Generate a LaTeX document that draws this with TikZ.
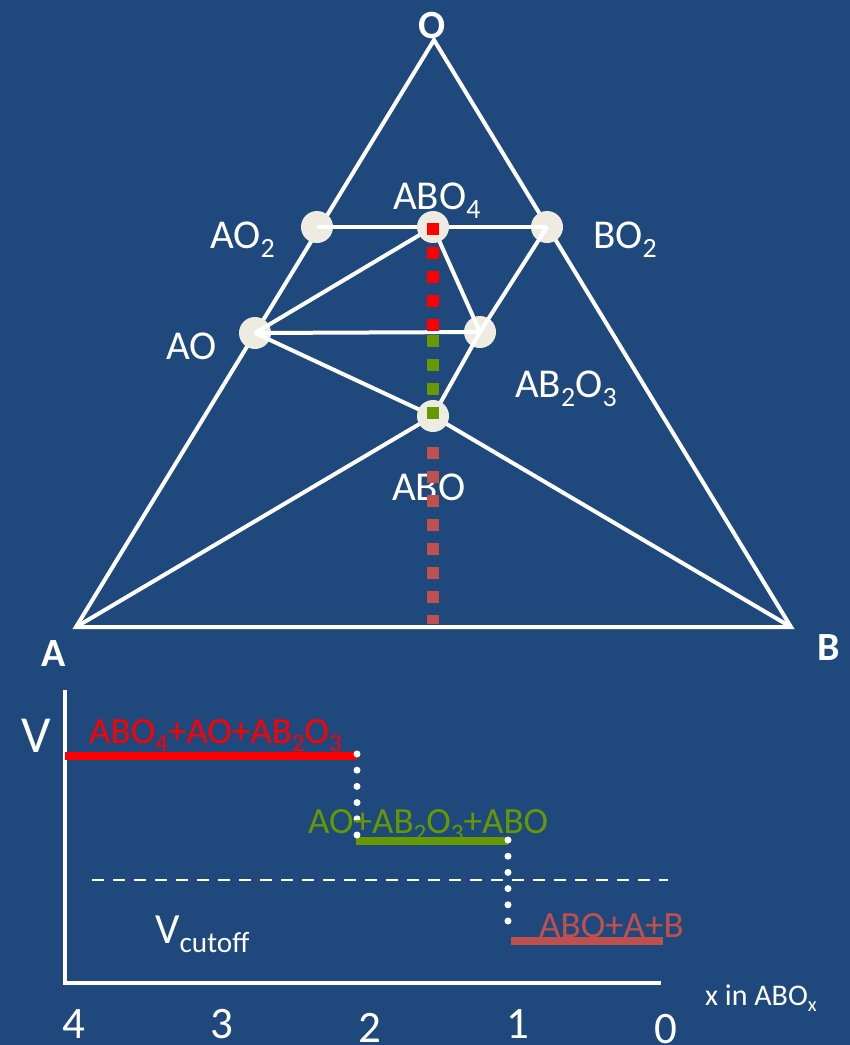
\documentclass[tikz,border=0pt]{standalone}
\usepackage{fontspec}
\setmainfont{Carlito}
\definecolor{bg}{RGB}{31,73,125}
\definecolor{ivory}{RGB}{238,236,225}
\definecolor{grn}{RGB}{102,153,0}
\definecolor{brn}{RGB}{192,80,77}
\makeatletter
\newcommand\sbs[1]{\raisebox{-0.22em}{\fontsize{\strip@pt\dimexpr 0.68\dimexpr\f@size pt\relax\relax}{1}\selectfont #1}}
\makeatother
\tikzset{
  lbl/.style={inner sep=0pt, anchor=base west, text=white, font=\fontsize{41}{44}\selectfont},
  edge/.style={white, line width=4pt},
  dotc/.style={circle, fill=ivory, minimum size=32pt, inner sep=0pt},
  sqline/.style={line width=12pt, dash pattern=on 12pt off 12pt},
  dotline/.style={white, line width=7pt, line cap=round, dash pattern=on 0pt off 16.2pt},
  phase/.style={line width=8pt},
  axis/.style={white, line width=4pt},
  tick/.style={inner sep=0pt, anchor=base, text=white, font=\fontsize{45}{48}\selectfont}
}
\begin{document}
\begin{tikzpicture}[x=1pt,y=-1pt]
\fill[bg] (0,0) rectangle (850,1045);
\useasboundingbox (0,0) rectangle (850,1045);
% vertices
\coordinate (A) at (76,627);
\coordinate (B) at (791,627);
\coordinate (O) at (434,40);
% triangle edges
\draw[edge] (A) -- (O) -- (B) -- cycle;
% lower circles
\node[dotc] (ao2) at (317,227) {};
\node[dotc] (bo2) at (547,227) {};
\node[dotc] (ao) at (255,333) {};
\node[dotc] (ab2o3) at (480,332) {};
\coordinate (abo0) at (433,416);
\coordinate (abo40) at (433,227);
% lines
\draw[edge] (abo0) -- (A);
\draw[edge] (abo0) -- (B);
\draw[edge] (ao.center) -- (abo0);
\draw[edge] (ab2o3.center) -- (abo0);
\draw[edge] (ao2.center) -- (bo2.center);
\draw[edge] (abo40) -- (ao.center);
\draw[edge] (abo40) -- (ab2o3.center);
\draw[edge] (ao.center) -- (ab2o3.center);
\draw[edge] (bo2.center) -- (ab2o3.center);
% upper circles
\node[dotc] (abo4) at (abo40) {};
\node[dotc] (abo) at (abo0) {};
% dotted column
\coordinate (r1) at (433,223);
\coordinate (r2) at (433,331);
\coordinate (g1) at (433,335);
\coordinate (g2) at (433,419);
\coordinate (b1) at (433,447);
\coordinate (b2) at (433,624);
\draw[sqline, red] (r1) -- (r2);
\draw[sqline, grn] (g1) -- (g2);
% labels of triangle
\node[lbl] (tAO2) at (210,248) {AO\sbs{2}};
\node[lbl] (tABO4) at (393,209) {ABO\sbs{4}};
\node[lbl] (tBO2) at (593,248) {BO\sbs{2}};
\node[lbl] (tAO) at (166,359) {AO};
\node[lbl] (tAB2O3) at (515,397) {AB\sbs{2}O\sbs{3}};
\node[lbl] (tABO) at (392,500) {ABO};
\draw[sqline, brn] (b1) -- (b2);
\node[lbl, anchor=base, font=\fontsize{40}{44}\selectfont\bfseries] (tO) at (432,38) {O};
\node[lbl, anchor=base, font=\fontsize{40}{44}\selectfont\bfseries] (tA) at (54,666) {A};
\node[lbl, anchor=base, font=\fontsize{40}{44}\selectfont\bfseries] (tB) at (829,660) {B};
% chart
\coordinate (ytop) at (65,690);
\coordinate (orig) at (65,985);
\coordinate (x0) at (63,983);
\coordinate (x1) at (661,983);
\draw[axis] (ytop) -- (orig);
\draw[axis] (x0) -- (x1);
\coordinate (p1a) at (65,756);
\coordinate (p1b) at (357,756);
\coordinate (d1a) at (357,754);
\coordinate (d1b) at (357,836);
\coordinate (p2a) at (356,841);
\coordinate (p2b) at (508,841);
\coordinate (d2a) at (508,840);
\coordinate (d2b) at (508,937);
\coordinate (p3a) at (511,941);
\coordinate (p3b) at (663,941);
\coordinate (c1) at (92,880);
\coordinate (c2) at (668,880);
\draw[white, line width=2pt, dash pattern=on 12pt off 9pt] (c1) -- (c2);
\draw[phase, red] (p1a) -- (p1b);
\draw[phase, grn] (p2a) -- (p2b);
\draw[phase, brn] (p3a) -- (p3b);
\draw[dotline] (d1a) -- (d1b);
\draw[dotline] (d2a) -- (d2b);
\node[lbl, font=\fontsize{52}{56}\selectfont] (tV) at (21,752) {V};
\node[lbl, text=red, font=\fontsize{37}{40}\selectfont] (tp1) at (89,743) {ABO\sbs{4}+AO+AB\sbs{2}O\sbs{3}};
\node[lbl, text=grn, font=\fontsize{37}{40}\selectfont] (tp2) at (308,833) {AO+AB\sbs{2}O\sbs{3}+ABO};
\node[lbl, text=brn, font=\fontsize{37}{40}\selectfont] (tp3) at (539,937) {ABO+A+B};
\node[lbl, font=\fontsize{43}{46}\selectfont] (tVc) at (155,943) {V\sbs{cutoff}};
\node[lbl, font=\fontsize{30}{33}\selectfont] (tx) at (705,1005) {x in ABO\sbs{x}};
\node[tick] (n4) at (74,1038) {4};
\node[tick] (n3) at (222,1038) {3};
\node[tick] (n2) at (370,1042) {2};
\node[tick] (n1) at (518,1038) {1};
\node[tick] (n0) at (666,1043) {0};
\end{tikzpicture}
\end{document}
